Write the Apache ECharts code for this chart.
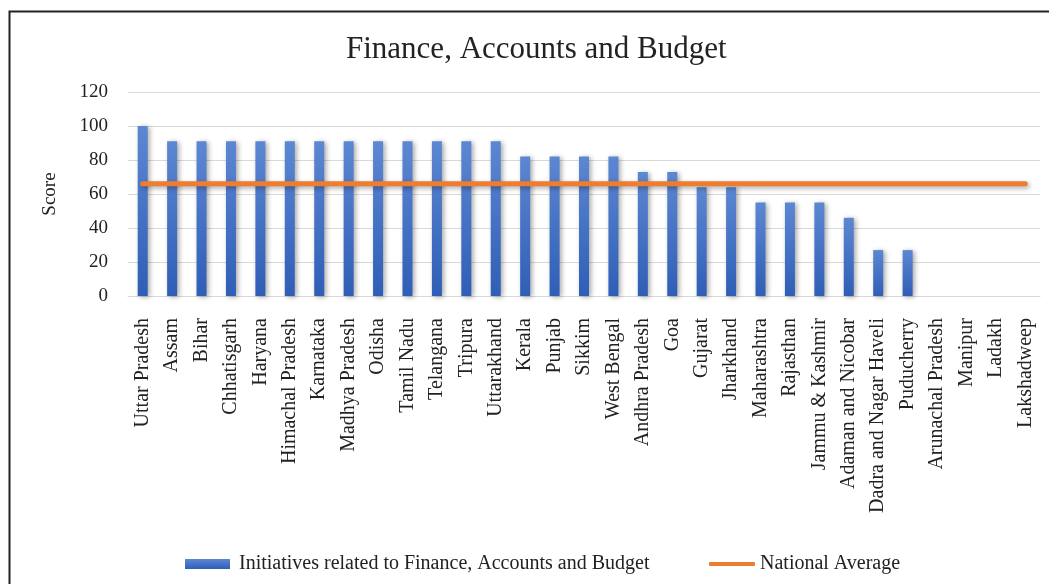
<!DOCTYPE html>
<html>
<head>
<meta charset="utf-8">
<script src="https://cdn.jsdelivr.net/npm/echarts@6/dist/echarts.min.js"></script>
<style>
html,body{margin:0;padding:0;background:#fff;}
#chart{width:1049px;height:584px;}
</style>
</head>
<body>
<div id="chart"></div>
<script>
const categories = ["Uttar Pradesh","Assam","Bihar","Chhatisgarh","Haryana","Himachal Pradesh","Karnataka","Madhya Pradesh","Odisha","Tamil Nadu","Telangana","Tripura","Uttarakhand","Kerala","Punjab","Sikkim","West Bengal","Andhra Pradesh","Goa","Gujarat","Jharkhand","Maharashtra","Rajasthan","Jammu & Kashmir","Adaman and Nicobar","Dadra and Nagar Haveli","Puducherry","Arunachal Pradesh","Manipur","Ladakh","Lakshadweep"];
const initiatives = [100,91,91,91,91,91,91,91,91,91,91,91,91,82,82,82,82,73,73,64,64,55,55,55,46,27,27,0,0,0,0];
const nationalAverage = [66,66,66,66,66,66,66,66,66,66,66,66,66,66,66,66,66,66,66,66,66,66,66,66,66,66,66,66,66,66,66];
const yTicks = [0,20,40,60,80,100,120];

const serif = "'Liberation Serif','Times New Roman',serif";
const chart = echarts.init(document.getElementById('chart'), null, {renderer:'canvas'});
chart.setOption({
  animation:false,
  textStyle:{fontFamily:serif},
  title:{text:'Finance, Accounts and Budget',left:346,top:34,padding:0,
    textStyle:{fontFamily:serif,fontWeight:'normal',fontSize:31,color:'#222'}},
  graphic:[{type:'polyline',shape:{points:[[9.5,600],[9.5,11.5],[1060,11.5]]},
    style:{stroke:'#222',lineWidth:2,fill:null},silent:true}],
  legend:[{
    data:[{name:'Initiatives related to Finance, Accounts and Budget',icon:'rect'}],
    left:185,top:554,padding:0,itemWidth:45,itemHeight:10,
    textStyle:{fontFamily:serif,fontSize:20,color:'#222',padding:[0,0,0,4]}
  },{
    data:[{name:'National Average',icon:'roundRect'}],
    left:709,top:554,padding:0,itemWidth:46,itemHeight:4,
    textStyle:{fontFamily:serif,fontSize:20,color:'#222'}
  }],
  grid:{left:128,right:9,top:92,bottom:288,containLabel:false},
  xAxis:{type:'category',data:categories,
    axisLine:{show:true,lineStyle:{color:'#d9d9d9',width:1}},
    axisTick:{show:false},
    axisLabel:{rotate:90,interval:0,margin:22,fontFamily:serif,fontSize:20,color:'#222'}},
  yAxis:{type:'value',min:0,max:120,interval:20,name:'Score',nameLocation:'middle',nameGap:68,
    nameTextStyle:{fontFamily:serif,fontSize:19,color:'#222'},
    axisLine:{show:false},axisTick:{show:false},
    axisLabel:{margin:20,fontFamily:serif,fontSize:19,color:'#222',
      formatter:v=>yTicks.includes(v)?String(v):''},
    splitLine:{lineStyle:{color:'#d9d9d9',width:1}}},
  series:[{
    name:'Initiatives related to Finance, Accounts and Budget',type:'bar',data:initiatives,
    barWidth:'34%',
    itemStyle:{color:new echarts.graphic.LinearGradient(0,0,0,1,[{offset:0,color:'#5c87d2'},{offset:1,color:'#2f5eb6'}]),
      shadowColor:'rgba(0,0,0,0.35)',shadowBlur:5,shadowOffsetX:2,shadowOffsetY:1}
  },{
    name:'National Average',type:'line',data:nationalAverage,
    symbol:'circle',symbolSize:4,z:5,
    itemStyle:{color:'#ed7d31'},
    lineStyle:{color:'#ed7d31',width:5,cap:'round',shadowColor:'rgba(0,0,0,0.35)',shadowBlur:5,shadowOffsetX:2,shadowOffsetY:2}
  }]
});
</script>
</body>
</html>
